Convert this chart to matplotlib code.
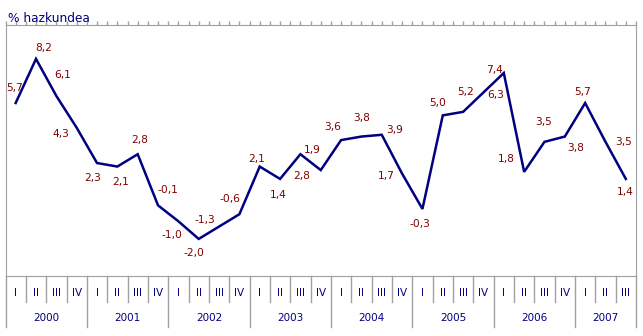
import matplotlib.pyplot as plt
from matplotlib import transforms

years = ["2000", "2001", "2002", "2003", "2004", "2005", "2006", "2007"]
quarters = ["I", "II", "III", "IV"]
values = [5.7, 8.2, 6.1, 4.3,
          2.3, 2.1, 2.8, -0.1,
          -1.0, -2.0, -1.3, -0.6,
          2.1, 1.4, 2.8, 1.9,
          3.6, 3.8, 3.9, 1.7,
          -0.3, 5.0, 5.2, 6.3,
          7.4, 1.8, 3.5, 3.8,
          5.7, 3.5, 1.4]
# where each value label sits relative to its point (pixels, right / down)
label_off = [(-1, -15), (8, -11), (6, -21), (-16, 6),
             (-4, 15), (3, 15), (2, -14), (10, -15),
             (-6, 14), (-5, 14), (-14, -7), (-9, -15),
             (-3, -8), (-2, 16), (1, 22), (-8, -20),
             (-8, -13), (0, -19), (13, -5), (-16, 2),
             (-3, 15), (-5, -12), (2, -20), (12, 3),
             (-9, -3), (-18, -13), (-1, -20), (11, 11),
             (-3, -11), (18, 0), (-1, 13)]

navy = "#000080"
red = "#800000"
gray = "#a0a0a0"

fig = plt.figure(figsize=(6.43, 3.36), dpi=100)
ax = fig.add_axes([5.5 / 643, 60 / 336, 630.5 / 643, 251 / 336])

x = list(range(len(values)))
ax.plot(x, values, color=navy, lw=1.8, solid_joinstyle="miter")

for i, v in enumerate(values):
    dx, dy = label_off[i]
    ax.annotate(f"{v:.1f}".replace(".", ","), (i, v), xytext=(dx, -dy),
                textcoords="offset pixels", ha="center", va="center",
                color=red, fontsize=7.7)

ax.set_xlim(-0.5, len(values) - 0.5)
ax.set_ylim(-4.1, 10.12)
ax.set_yticks([])
for s in ax.spines.values():
    s.set_color(gray)
ax.xaxis.tick_top()
ax.set_xticks([i * 0.5 - 0.5 for i in range(2 * len(values) + 1)])
ax.set_xticklabels([])
ax.tick_params(axis="x", direction="out", length=3, color=gray, width=1)

# quarter / year table under the plot
tr = transforms.blended_transform_factory(ax.transData, ax.transAxes)
for b in range(len(values) + 1):
    low = -0.2032 if (b % 4 == 0 or b == len(values)) else -0.1036
    ax.plot([b - 0.5, b - 0.5], [0, low], transform=tr, color=gray,
            lw=1, clip_on=False)
for i in range(len(values)):
    ax.text(i, -0.068, quarters[i % 4], transform=tr, ha="center",
            va="center", color=navy, fontsize=7.5)
for k, yr in enumerate(years):
    first = 4 * k
    last = min(4 * k + 3, len(values) - 1)
    ax.text((first + last) / 2, -0.167, yr, transform=tr, ha="center",
            va="center", color=navy, fontsize=7.5)

fig.text(8 / 643, 1 - 22.5 / 336, "% hazkundea", color=navy, fontsize=8.7,
         va="baseline", ha="left")

fig.savefig("out.png", dpi=100)
